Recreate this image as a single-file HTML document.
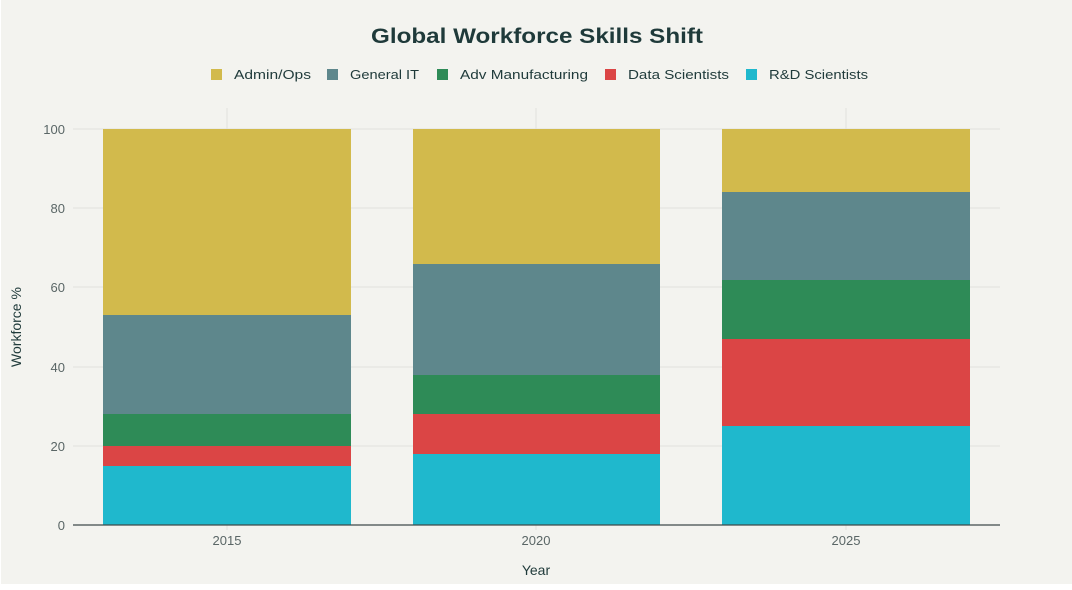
<!DOCTYPE html><html><head><style>body{margin:0;background:#fff}svg{display:block}text{font-family:"Liberation Sans",sans-serif}</style></head><body>
<svg width="1072" height="590" xmlns="http://www.w3.org/2000/svg">
<rect x="1" y="0" width="1071" height="584" fill="#f3f3ef"/>
<text x="371" y="43" textLength="332" lengthAdjust="spacingAndGlyphs" font-size="21" font-weight="bold" fill="#1f3a3a">Global Workforce Skills Shift</text>
<g font-size="13" fill="#1f3a3a">
<rect x="211" y="69" width="11" height="11" fill="#d2ba4c"/><text x="234" y="79" textLength="77" lengthAdjust="spacingAndGlyphs">Admin/Ops</text>
<rect x="327" y="69" width="11" height="11" fill="#5e878c"/><text x="350" y="79" textLength="69" lengthAdjust="spacingAndGlyphs">General IT</text>
<rect x="437" y="69" width="11" height="11" fill="#2e8b57"/><text x="460" y="79" textLength="128" lengthAdjust="spacingAndGlyphs">Adv Manufacturing</text>
<rect x="605" y="69" width="11" height="11" fill="#db4545"/><text x="628" y="79" textLength="101" lengthAdjust="spacingAndGlyphs">Data Scientists</text>
<rect x="746" y="69" width="11" height="11" fill="#1fb8cd"/><text x="769" y="79" textLength="99" lengthAdjust="spacingAndGlyphs">R&amp;D Scientists</text>
</g>
<g stroke="#e2e2dc" stroke-width="1">
<line x1="73" x2="1000" y1="129" y2="129"/><line x1="73" x2="1000" y1="208" y2="208"/><line x1="73" x2="1000" y1="287" y2="287"/><line x1="73" x2="1000" y1="367" y2="367"/><line x1="73" x2="1000" y1="446" y2="446"/>
<line x1="227" x2="227" y1="108" y2="530"/><line x1="536" x2="536" y1="108" y2="530"/><line x1="846" x2="846" y1="108" y2="530"/>
</g>
<g font-size="13" fill="#5a6666" text-anchor="end">
<text x="65" y="134">100</text><text x="65" y="213">80</text><text x="65" y="292">60</text><text x="65" y="372">40</text><text x="65" y="451">20</text><text x="65" y="530">0</text>
</g>
<text transform="translate(21,327) rotate(-90)" text-anchor="middle" font-size="14" fill="#1f3a3a">Workforce %</text>
<g>
<rect x="103" y="466" width="248" height="59" fill="#1fb8cd"/>
<rect x="103" y="446" width="248" height="20" fill="#db4545"/>
<rect x="103" y="414" width="248" height="32" fill="#2e8b57"/>
<rect x="103" y="315" width="248" height="99" fill="#5e878c"/>
<rect x="103" y="129" width="248" height="186" fill="#d2ba4c"/>
<rect x="413" y="454" width="247" height="71" fill="#1fb8cd"/>
<rect x="413" y="414" width="247" height="40" fill="#db4545"/>
<rect x="413" y="375" width="247" height="39" fill="#2e8b57"/>
<rect x="413" y="264" width="247" height="111" fill="#5e878c"/>
<rect x="413" y="129" width="247" height="135" fill="#d2ba4c"/>
<rect x="722" y="426" width="248" height="99" fill="#1fb8cd"/>
<rect x="722" y="339" width="248" height="87" fill="#db4545"/>
<rect x="722" y="280" width="248" height="59" fill="#2e8b57"/>
<rect x="722" y="192" width="248" height="88" fill="#5e878c"/>
<rect x="722" y="129" width="248" height="63" fill="#d2ba4c"/>
</g>
<line x1="73" x2="1000" y1="525" y2="525" stroke="#3f4a4a" stroke-width="1.2"/>
<g font-size="13" fill="#5a6666" text-anchor="middle">
<text x="227" y="545">2015</text><text x="536" y="545">2020</text><text x="846" y="545">2025</text>
</g>
<text x="536" y="575" text-anchor="middle" font-size="14" fill="#1f3a3a">Year</text>
</svg></body></html>
